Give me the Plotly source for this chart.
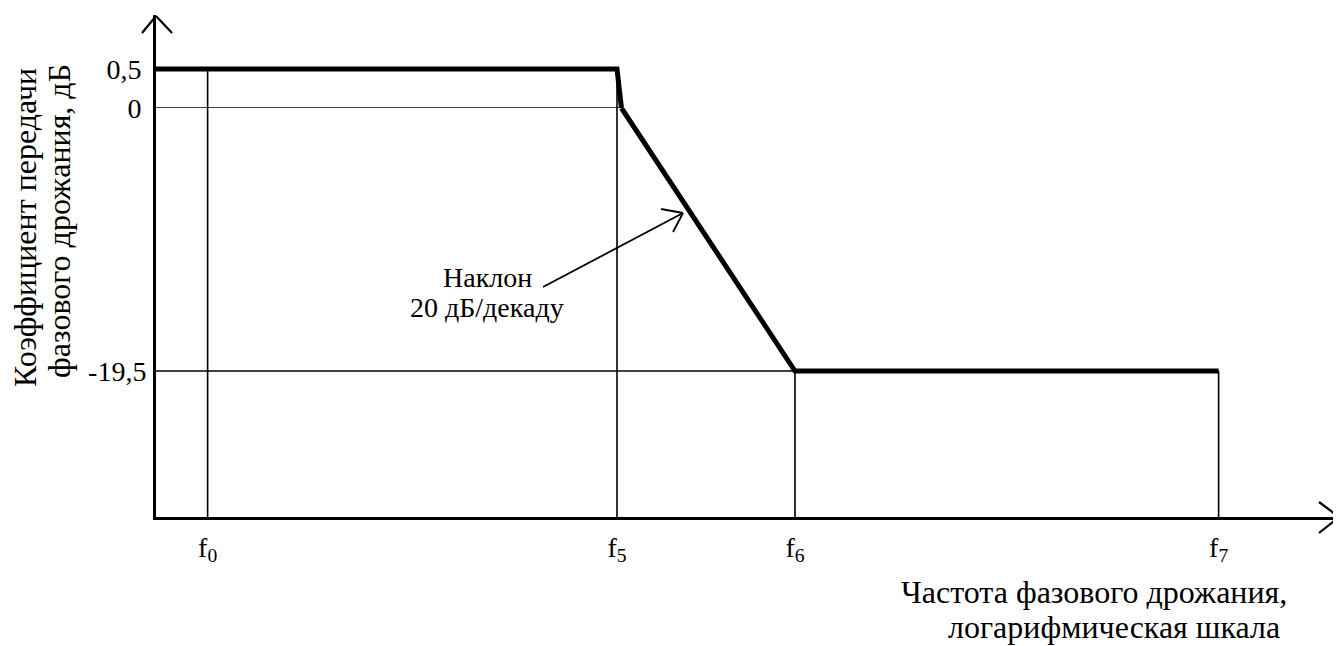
import plotly.graph_objects as go

# ---------------- data ----------------
freq_labels = ["f<sub>0</sub>", "f<sub>5</sub>", "f<sub>6</sub>", "f<sub>7</sub>"]
freq_pos = [-2.30, 0.0, 1.0, 3.38]          # log10(f / f5), decades (schematic log scale)
gain_tick_vals = [0.5, 0.0, -19.5]
gain_tick_text = ["0,5", "0", "-19,5"]
passband_gain = 0.5                         # dB
stopband_gain = -19.5                       # dB
slope_lines = ["Наклон", "20 дБ/декаду"]
y_title_lines = ["Коэффициент передачи", "фазового дрожания, дБ"]
x_title_lines = ["Частота фазового дрожания,", "логарифмическая шкала"]

# ---------------- geometry (figure layout) ----------------
OFF = 8                                   # page body margin
W, H = 1341 - OFF, 646 - OFF
L, T = 156 - OFF, 15 - OFF
PW = 1340 - 156
PH = 517 - 15
R = W - L - PW
B = H - T - PH
X_RANGE = [-2.59, 4.062]
Y_TOP_RANGE = [0.0, 1.1923]      # upper segment of broken axis (0 .. 0.5 dB zone)
Y_BOT_RANGE = [-30.325, 0.0]     # lower segment of broken axis
SPLIT = 0.8147                   # paper fraction where the axis is broken (0 dB)
FONT = "Liberation Serif, Times New Roman, serif"
FS = 28
FS_TITLE = 32
FS_XTITLE = 32


def px(xp, yp):
    """reference pixel -> paper coordinates"""
    return (xp - 156) / PW, (517 - yp) / PH


f0, f5, f6, f7 = freq_pos
# slope crossing of 0 dB (straight line between the corner points)
x_cross = f5 + (passband_gain - 0.0) / (passband_gain - stopband_gain) * (f6 - f5)

fig = go.Figure()

thick = dict(color="black", width=5)
thin = dict(color="black", width=1.6)

# thin reference lines: upper part (axis y)
fig.add_trace(go.Scatter(
    x=[X_RANGE[0], x_cross, None, f0, f0, None, f5, f5],
    y=[0.0, 0.0, None, passband_gain, 0.0, None, passband_gain, 0.0],
    mode="lines", line=thin, xaxis="x", yaxis="y", hoverinfo="skip"))
# thin reference lines: lower part (axis y2)
fig.add_trace(go.Scatter(
    x=[X_RANGE[0], f6, None, f0, f0, None, f5, f5, None, f6, f6, None, f7, f7],
    y=[stopband_gain, stopband_gain, None, 0.0, Y_BOT_RANGE[0], None, 0.0, Y_BOT_RANGE[0],
       None, stopband_gain, Y_BOT_RANGE[0], None, stopband_gain, Y_BOT_RANGE[0]],
    mode="lines", line=thin, xaxis="x", yaxis="y2", hoverinfo="skip"))

# thick response curve
fig.add_trace(go.Scatter(
    x=[X_RANGE[0], f5, x_cross], y=[passband_gain, passband_gain, 0.0],
    mode="lines", line=thick, xaxis="x", yaxis="y", hoverinfo="skip"))
fig.add_trace(go.Scatter(
    x=[x_cross, f6, f7], y=[0.0, stopband_gain, stopband_gain],
    mode="lines", line=thick, xaxis="x", yaxis="y2", hoverinfo="skip"))

axis_common = dict(showgrid=False, zeroline=False, showline=True, linecolor="black",
                   linewidth=3, ticks="", fixedrange=True,
                   tickfont=dict(family=FONT, size=FS, color="black"))

fig.update_layout(
    width=W, height=H,
    margin=dict(l=L, r=R, t=T, b=B),
    paper_bgcolor="white", plot_bgcolor="white",
    showlegend=False,
    xaxis=dict(domain=[0, 1], range=X_RANGE, anchor="y2",
               tickvals=freq_pos, ticktext=freq_labels, ticklabelstandoff=3,
               **axis_common),
    yaxis=dict(domain=[SPLIT, 1], range=Y_TOP_RANGE, anchor="x",
               tickvals=gain_tick_vals[:2], ticktext=gain_tick_text[:2],
               ticklabelstandoff=6, **axis_common),
    yaxis2=dict(domain=[0, SPLIT], range=Y_BOT_RANGE, anchor="x",
                tickvals=gain_tick_vals[2:], ticktext=gain_tick_text[2:],
                ticklabelstandoff=1, **axis_common),
)


# open arrowheads for axes and the slope pointer
def seg(p1, p2, w=2.2):
    a = px(*p1)
    b = px(*p2)
    fig.add_shape(type="line", xref="paper", yref="paper",
                  x0=a[0], y0=a[1], x1=b[0], y1=b[1],
                  line=dict(color="black", width=w), layer="above")


# y-axis arrow
seg((156, 16), (142, 33))
seg((156, 16), (172, 33))
# x-axis arrow
seg((1339, 517), (1319, 502))
seg((1339, 517), (1319, 533))
# slope pointer
seg((543, 287), (683, 213), 1.8)
seg((683, 213), (661, 209), 1.8)
seg((683, 213), (673, 232), 1.8)


def text(s, xp, yp, size, xanchor="center", angle=0):
    xa, ya = px(xp, yp)
    fig.add_annotation(text=s, xref="paper", yref="paper", x=xa, y=ya,
                       showarrow=False, textangle=angle,
                       font=dict(family=FONT, size=size, color="black"),
                       xanchor=xanchor, yanchor="middle", borderpad=0)


text(slope_lines[0], 487, 277, FS)
text(slope_lines[1], 487, 308, FS)
text(y_title_lines[0], 25, 228, FS_TITLE, angle=-90)
text(y_title_lines[1], 59, 221, FS_TITLE, angle=-90)
text(x_title_lines[0], 1288, 592, FS_XTITLE, xanchor="right")
text(x_title_lines[1], 1281, 627, FS_XTITLE, xanchor="right")

fig.write_html("out.html", config={"displayModeBar": False})
